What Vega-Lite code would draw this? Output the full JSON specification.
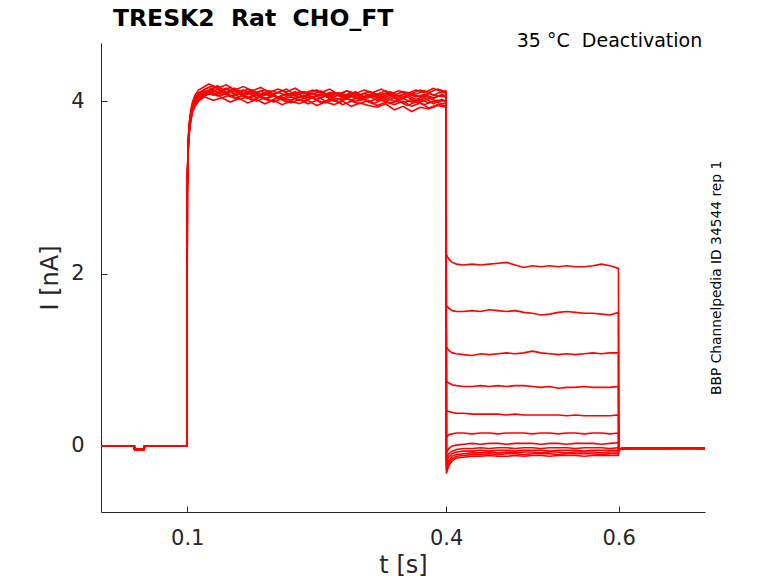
{
  "$schema": "https://vega.github.io/schema/vega-lite/v6.json",
  "width": 604,
  "height": 469,
  "autosize": {"type": "none"},
  "padding": {"left": 101, "top": 43, "right": 73, "bottom": 71},
  "background": "white",
  "config": {"view": {"stroke": null}, "font": "DejaVu Sans"},
  "datasets": {
    "traces": [
      {"s":1,"t":0,"i":0},{"s":1,"t":0.0386,"i":0},{"s":1,"t":0.039,"i":-0.04},{"s":1,"t":0.05,"i":-0.04},{"s":1,"t":0.0505,"i":0},{"s":1,"t":0.0997,"i":0},
      {"s":1,"t":0.1,"i":3.02},{"s":1,"t":0.101,"i":3.48},{"s":1,"t":0.102,"i":3.68},{"s":1,"t":0.104,"i":3.86},{"s":1,"t":0.106,"i":3.96},{"s":1,"t":0.109,"i":4.03},{"s":1,"t":0.113,"i":4.08},
      {"s":1,"t":0.12,"i":4.14},{"s":1,"t":0.13,"i":4.18},{"s":1,"t":0.14,"i":4.12},{"s":1,"t":0.15,"i":4.16},{"s":1,"t":0.16,"i":4.09},{"s":1,"t":0.17,"i":4.14},{"s":1,"t":0.18,"i":4.10},{"s":1,"t":0.19,"i":4.13},{"s":1,"t":0.2,"i":4.08},{"s":1,"t":0.21,"i":4.12},{"s":1,"t":0.22,"i":4.07},{"s":1,"t":0.23,"i":4.11},{"s":1,"t":0.24,"i":4.09},{"s":1,"t":0.25,"i":4.13},{"s":1,"t":0.26,"i":4.08},{"s":1,"t":0.27,"i":4.10},{"s":1,"t":0.28,"i":4.06},{"s":1,"t":0.29,"i":4.10},{"s":1,"t":0.3,"i":4.07},{"s":1,"t":0.31,"i":4.11},{"s":1,"t":0.32,"i":4.08},{"s":1,"t":0.33,"i":4.12},{"s":1,"t":0.34,"i":4.07},{"s":1,"t":0.35,"i":4.11},{"s":1,"t":0.36,"i":4.09},{"s":1,"t":0.37,"i":4.13},{"s":1,"t":0.38,"i":4.10},{"s":1,"t":0.39,"i":4.14},{"s":1,"t":0.3997,"i":4.11},
      {"s":1,"t":0.4003,"i":2.22},{"s":1,"t":0.403,"i":2.17},{"s":1,"t":0.407,"i":2.13},{"s":1,"t":0.412,"i":2.11},{"s":1,"t":0.42,"i":2.10},{"s":1,"t":0.43,"i":2.11},{"s":1,"t":0.44,"i":2.10},{"s":1,"t":0.45,"i":2.11},{"s":1,"t":0.46,"i":2.12},{"s":1,"t":0.47,"i":2.13},{"s":1,"t":0.48,"i":2.10},{"s":1,"t":0.49,"i":2.07},{"s":1,"t":0.5,"i":2.09},{"s":1,"t":0.51,"i":2.08},{"s":1,"t":0.52,"i":2.09},{"s":1,"t":0.53,"i":2.08},{"s":1,"t":0.54,"i":2.09},{"s":1,"t":0.55,"i":2.08},{"s":1,"t":0.56,"i":2.08},{"s":1,"t":0.57,"i":2.09},{"s":1,"t":0.58,"i":2.11},{"s":1,"t":0.59,"i":2.09},{"s":1,"t":0.5997,"i":2.06},
      {"s":1,"t":0.6,"i":-0.04},{"s":1,"t":0.603,"i":-0.03},{"s":1,"t":0.65,"i":-0.03},{"s":1,"t":0.7,"i":-0.03},

      {"s":2,"t":0,"i":0},{"s":2,"t":0.0386,"i":0},{"s":2,"t":0.039,"i":-0.04},{"s":2,"t":0.05,"i":-0.04},{"s":2,"t":0.0505,"i":0},{"s":2,"t":0.0997,"i":0},
      {"s":2,"t":0.1,"i":2.98},{"s":2,"t":0.101,"i":3.42},{"s":2,"t":0.102,"i":3.62},{"s":2,"t":0.104,"i":3.79},{"s":2,"t":0.106,"i":3.89},{"s":2,"t":0.109,"i":3.97},{"s":2,"t":0.113,"i":4.03},
      {"s":2,"t":0.125,"i":4.10},{"s":2,"t":0.135,"i":4.06},{"s":2,"t":0.145,"i":4.09},{"s":2,"t":0.155,"i":4.03},{"s":2,"t":0.165,"i":4.07},{"s":2,"t":0.175,"i":4.01},{"s":2,"t":0.185,"i":4.05},{"s":2,"t":0.195,"i":4.00},{"s":2,"t":0.205,"i":4.04},{"s":2,"t":0.215,"i":3.99},{"s":2,"t":0.225,"i":4.03},{"s":2,"t":0.235,"i":4.00},{"s":2,"t":0.245,"i":4.04},{"s":2,"t":0.255,"i":3.98},{"s":2,"t":0.265,"i":4.02},{"s":2,"t":0.275,"i":3.99},{"s":2,"t":0.285,"i":4.03},{"s":2,"t":0.295,"i":4.00},{"s":2,"t":0.305,"i":4.02},{"s":2,"t":0.315,"i":3.97},{"s":2,"t":0.325,"i":4.01},{"s":2,"t":0.335,"i":3.98},{"s":2,"t":0.345,"i":4.00},{"s":2,"t":0.355,"i":3.95},{"s":2,"t":0.365,"i":3.99},{"s":2,"t":0.375,"i":3.96},{"s":2,"t":0.385,"i":4.00},{"s":2,"t":0.395,"i":3.97},{"s":2,"t":0.3997,"i":3.98},
      {"s":2,"t":0.4003,"i":1.63},{"s":2,"t":0.403,"i":1.60},{"s":2,"t":0.407,"i":1.57},{"s":2,"t":0.412,"i":1.56},{"s":2,"t":0.42,"i":1.56},{"s":2,"t":0.43,"i":1.57},{"s":2,"t":0.44,"i":1.56},{"s":2,"t":0.45,"i":1.58},{"s":2,"t":0.46,"i":1.57},{"s":2,"t":0.47,"i":1.56},{"s":2,"t":0.48,"i":1.57},{"s":2,"t":0.49,"i":1.55},{"s":2,"t":0.5,"i":1.54},{"s":2,"t":0.51,"i":1.52},{"s":2,"t":0.52,"i":1.53},{"s":2,"t":0.53,"i":1.55},{"s":2,"t":0.54,"i":1.56},{"s":2,"t":0.55,"i":1.55},{"s":2,"t":0.56,"i":1.54},{"s":2,"t":0.57,"i":1.54},{"s":2,"t":0.58,"i":1.53},{"s":2,"t":0.59,"i":1.52},{"s":2,"t":0.5997,"i":1.55},
      {"s":2,"t":0.6,"i":-0.05},{"s":2,"t":0.603,"i":-0.03},{"s":2,"t":0.65,"i":-0.02},{"s":2,"t":0.7,"i":-0.03},

      {"s":3,"t":0,"i":0},{"s":3,"t":0.0386,"i":0},{"s":3,"t":0.039,"i":-0.04},{"s":3,"t":0.05,"i":-0.04},{"s":3,"t":0.0505,"i":0},{"s":3,"t":0.0997,"i":0},
      {"s":3,"t":0.1,"i":3.00},{"s":3,"t":0.101,"i":3.45},{"s":3,"t":0.102,"i":3.65},{"s":3,"t":0.104,"i":3.82},{"s":3,"t":0.106,"i":3.92},{"s":3,"t":0.109,"i":3.99},{"s":3,"t":0.113,"i":4.04},
      {"s":3,"t":0.12,"i":4.08},{"s":3,"t":0.13,"i":4.13},{"s":3,"t":0.14,"i":4.07},{"s":3,"t":0.15,"i":4.11},{"s":3,"t":0.16,"i":4.05},{"s":3,"t":0.17,"i":4.10},{"s":3,"t":0.18,"i":4.04},{"s":3,"t":0.19,"i":4.09},{"s":3,"t":0.2,"i":4.06},{"s":3,"t":0.21,"i":4.03},{"s":3,"t":0.22,"i":4.08},{"s":3,"t":0.23,"i":4.04},{"s":3,"t":0.24,"i":4.07},{"s":3,"t":0.25,"i":4.02},{"s":3,"t":0.26,"i":4.06},{"s":3,"t":0.27,"i":4.09},{"s":3,"t":0.28,"i":4.04},{"s":3,"t":0.29,"i":4.07},{"s":3,"t":0.3,"i":4.03},{"s":3,"t":0.31,"i":4.08},{"s":3,"t":0.32,"i":4.05},{"s":3,"t":0.33,"i":4.02},{"s":3,"t":0.34,"i":4.07},{"s":3,"t":0.35,"i":4.04},{"s":3,"t":0.36,"i":4.08},{"s":3,"t":0.37,"i":4.05},{"s":3,"t":0.38,"i":4.09},{"s":3,"t":0.39,"i":4.06},{"s":3,"t":0.3997,"i":4.05},
      {"s":3,"t":0.4003,"i":1.15},{"s":3,"t":0.403,"i":1.11},{"s":3,"t":0.407,"i":1.08},{"s":3,"t":0.412,"i":1.07},{"s":3,"t":0.42,"i":1.06},{"s":3,"t":0.43,"i":1.05},{"s":3,"t":0.44,"i":1.07},{"s":3,"t":0.45,"i":1.06},{"s":3,"t":0.46,"i":1.07},{"s":3,"t":0.47,"i":1.08},{"s":3,"t":0.48,"i":1.07},{"s":3,"t":0.49,"i":1.08},{"s":3,"t":0.5,"i":1.10},{"s":3,"t":0.51,"i":1.08},{"s":3,"t":0.52,"i":1.07},{"s":3,"t":0.53,"i":1.06},{"s":3,"t":0.54,"i":1.07},{"s":3,"t":0.55,"i":1.06},{"s":3,"t":0.56,"i":1.07},{"s":3,"t":0.57,"i":1.08},{"s":3,"t":0.58,"i":1.07},{"s":3,"t":0.59,"i":1.08},{"s":3,"t":0.5997,"i":1.08},
      {"s":3,"t":0.6,"i":-0.04},{"s":3,"t":0.603,"i":-0.03},{"s":3,"t":0.65,"i":-0.03},{"s":3,"t":0.7,"i":-0.02},

      {"s":4,"t":0,"i":0},{"s":4,"t":0.0386,"i":0},{"s":4,"t":0.039,"i":-0.04},{"s":4,"t":0.05,"i":-0.04},{"s":4,"t":0.0505,"i":0},{"s":4,"t":0.0997,"i":0},
      {"s":4,"t":0.1,"i":3.04},{"s":4,"t":0.101,"i":3.50},{"s":4,"t":0.102,"i":3.70},{"s":4,"t":0.104,"i":3.87},{"s":4,"t":0.106,"i":3.97},{"s":4,"t":0.109,"i":4.05},{"s":4,"t":0.113,"i":4.10},
      {"s":4,"t":0.125,"i":4.16},{"s":4,"t":0.135,"i":4.11},{"s":4,"t":0.145,"i":4.15},{"s":4,"t":0.155,"i":4.09},{"s":4,"t":0.165,"i":4.13},{"s":4,"t":0.175,"i":4.08},{"s":4,"t":0.185,"i":4.12},{"s":4,"t":0.195,"i":4.06},{"s":4,"t":0.205,"i":4.10},{"s":4,"t":0.215,"i":4.07},{"s":4,"t":0.225,"i":4.11},{"s":4,"t":0.235,"i":4.05},{"s":4,"t":0.245,"i":4.09},{"s":4,"t":0.255,"i":4.06},{"s":4,"t":0.265,"i":4.10},{"s":4,"t":0.275,"i":4.07},{"s":4,"t":0.285,"i":4.12},{"s":4,"t":0.295,"i":4.06},{"s":4,"t":0.305,"i":4.09},{"s":4,"t":0.315,"i":4.05},{"s":4,"t":0.325,"i":4.08},{"s":4,"t":0.335,"i":4.10},{"s":4,"t":0.345,"i":4.06},{"s":4,"t":0.355,"i":4.09},{"s":4,"t":0.365,"i":4.05},{"s":4,"t":0.375,"i":4.08},{"s":4,"t":0.385,"i":4.04},{"s":4,"t":0.395,"i":4.07},{"s":4,"t":0.3997,"i":4.06},
      {"s":4,"t":0.4003,"i":0.75},{"s":4,"t":0.403,"i":0.73},{"s":4,"t":0.407,"i":0.71},{"s":4,"t":0.412,"i":0.70},{"s":4,"t":0.42,"i":0.69},{"s":4,"t":0.43,"i":0.69},{"s":4,"t":0.44,"i":0.70},{"s":4,"t":0.45,"i":0.69},{"s":4,"t":0.46,"i":0.70},{"s":4,"t":0.47,"i":0.69},{"s":4,"t":0.48,"i":0.70},{"s":4,"t":0.49,"i":0.70},{"s":4,"t":0.5,"i":0.69},{"s":4,"t":0.51,"i":0.68},{"s":4,"t":0.52,"i":0.69},{"s":4,"t":0.53,"i":0.67},{"s":4,"t":0.54,"i":0.68},{"s":4,"t":0.55,"i":0.68},{"s":4,"t":0.56,"i":0.69},{"s":4,"t":0.57,"i":0.68},{"s":4,"t":0.58,"i":0.68},{"s":4,"t":0.59,"i":0.68},{"s":4,"t":0.5997,"i":0.69},
      {"s":4,"t":0.6,"i":-0.05},{"s":4,"t":0.603,"i":-0.03},{"s":4,"t":0.65,"i":-0.03},{"s":4,"t":0.7,"i":-0.03},

      {"s":5,"t":0,"i":0},{"s":5,"t":0.0386,"i":0},{"s":5,"t":0.039,"i":-0.04},{"s":5,"t":0.05,"i":-0.04},{"s":5,"t":0.0505,"i":0},{"s":5,"t":0.0997,"i":0},
      {"s":5,"t":0.1,"i":2.96},{"s":5,"t":0.101,"i":3.40},{"s":5,"t":0.102,"i":3.60},{"s":5,"t":0.104,"i":3.77},{"s":5,"t":0.106,"i":3.87},{"s":5,"t":0.109,"i":3.94},{"s":5,"t":0.113,"i":4.00},
      {"s":5,"t":0.12,"i":4.05},{"s":5,"t":0.13,"i":4.01},{"s":5,"t":0.14,"i":4.04},{"s":5,"t":0.15,"i":3.99},{"s":5,"t":0.16,"i":4.03},{"s":5,"t":0.17,"i":3.98},{"s":5,"t":0.18,"i":4.02},{"s":5,"t":0.19,"i":3.97},{"s":5,"t":0.2,"i":4.01},{"s":5,"t":0.21,"i":3.96},{"s":5,"t":0.22,"i":4.00},{"s":5,"t":0.23,"i":3.97},{"s":5,"t":0.24,"i":4.01},{"s":5,"t":0.25,"i":3.95},{"s":5,"t":0.26,"i":3.99},{"s":5,"t":0.27,"i":3.96},{"s":5,"t":0.28,"i":4.00},{"s":5,"t":0.29,"i":3.94},{"s":5,"t":0.3,"i":3.98},{"s":5,"t":0.31,"i":3.95},{"s":5,"t":0.32,"i":3.93},{"s":5,"t":0.33,"i":3.97},{"s":5,"t":0.34,"i":3.90},{"s":5,"t":0.35,"i":3.94},{"s":5,"t":0.36,"i":3.88},{"s":5,"t":0.37,"i":3.93},{"s":5,"t":0.38,"i":3.91},{"s":5,"t":0.39,"i":3.95},{"s":5,"t":0.3997,"i":3.93},
      {"s":5,"t":0.4003,"i":0.41},{"s":5,"t":0.403,"i":0.40},{"s":5,"t":0.407,"i":0.39},{"s":5,"t":0.412,"i":0.38},{"s":5,"t":0.42,"i":0.38},{"s":5,"t":0.43,"i":0.37},{"s":5,"t":0.44,"i":0.37},{"s":5,"t":0.45,"i":0.37},{"s":5,"t":0.46,"i":0.37},{"s":5,"t":0.47,"i":0.36},{"s":5,"t":0.48,"i":0.37},{"s":5,"t":0.49,"i":0.36},{"s":5,"t":0.5,"i":0.36},{"s":5,"t":0.51,"i":0.36},{"s":5,"t":0.52,"i":0.36},{"s":5,"t":0.53,"i":0.36},{"s":5,"t":0.54,"i":0.35},{"s":5,"t":0.55,"i":0.36},{"s":5,"t":0.56,"i":0.35},{"s":5,"t":0.57,"i":0.35},{"s":5,"t":0.58,"i":0.35},{"s":5,"t":0.59,"i":0.35},{"s":5,"t":0.5997,"i":0.36},
      {"s":5,"t":0.6,"i":-0.04},{"s":5,"t":0.603,"i":-0.03},{"s":5,"t":0.65,"i":-0.03},{"s":5,"t":0.7,"i":-0.03},

      {"s":6,"t":0,"i":0},{"s":6,"t":0.0386,"i":0},{"s":6,"t":0.039,"i":-0.04},{"s":6,"t":0.05,"i":-0.04},{"s":6,"t":0.0505,"i":0},{"s":6,"t":0.0997,"i":0},
      {"s":6,"t":0.1,"i":3.05},{"s":6,"t":0.101,"i":3.52},{"s":6,"t":0.102,"i":3.72},{"s":6,"t":0.104,"i":3.89},{"s":6,"t":0.106,"i":3.99},{"s":6,"t":0.109,"i":4.07},{"s":6,"t":0.113,"i":4.13},
      {"s":6,"t":0.125,"i":4.20},{"s":6,"t":0.135,"i":4.15},{"s":6,"t":0.145,"i":4.19},{"s":6,"t":0.155,"i":4.13},{"s":6,"t":0.165,"i":4.17},{"s":6,"t":0.175,"i":4.12},{"s":6,"t":0.185,"i":4.16},{"s":6,"t":0.195,"i":4.10},{"s":6,"t":0.205,"i":4.14},{"s":6,"t":0.215,"i":4.11},{"s":6,"t":0.225,"i":4.15},{"s":6,"t":0.235,"i":4.09},{"s":6,"t":0.245,"i":4.13},{"s":6,"t":0.255,"i":4.10},{"s":6,"t":0.265,"i":4.14},{"s":6,"t":0.275,"i":4.08},{"s":6,"t":0.285,"i":4.12},{"s":6,"t":0.295,"i":4.09},{"s":6,"t":0.305,"i":4.13},{"s":6,"t":0.315,"i":4.10},{"s":6,"t":0.325,"i":4.14},{"s":6,"t":0.335,"i":4.08},{"s":6,"t":0.345,"i":4.12},{"s":6,"t":0.355,"i":4.09},{"s":6,"t":0.365,"i":4.13},{"s":6,"t":0.375,"i":4.10},{"s":6,"t":0.385,"i":4.15},{"s":6,"t":0.395,"i":4.11},{"s":6,"t":0.3997,"i":4.12},
      {"s":6,"t":0.4003,"i":0.10},{"s":6,"t":0.403,"i":0.13},{"s":6,"t":0.407,"i":0.14},{"s":6,"t":0.412,"i":0.15},{"s":6,"t":0.42,"i":0.15},{"s":6,"t":0.43,"i":0.14},{"s":6,"t":0.44,"i":0.15},{"s":6,"t":0.45,"i":0.15},{"s":6,"t":0.46,"i":0.14},{"s":6,"t":0.47,"i":0.15},{"s":6,"t":0.48,"i":0.15},{"s":6,"t":0.49,"i":0.15},{"s":6,"t":0.5,"i":0.14},{"s":6,"t":0.51,"i":0.15},{"s":6,"t":0.52,"i":0.15},{"s":6,"t":0.53,"i":0.14},{"s":6,"t":0.54,"i":0.15},{"s":6,"t":0.55,"i":0.15},{"s":6,"t":0.56,"i":0.14},{"s":6,"t":0.57,"i":0.15},{"s":6,"t":0.58,"i":0.15},{"s":6,"t":0.59,"i":0.14},{"s":6,"t":0.5997,"i":0.15},
      {"s":6,"t":0.6,"i":-0.05},{"s":6,"t":0.603,"i":-0.03},{"s":6,"t":0.65,"i":-0.03},{"s":6,"t":0.7,"i":-0.03},

      {"s":7,"t":0,"i":0},{"s":7,"t":0.0386,"i":0},{"s":7,"t":0.039,"i":-0.04},{"s":7,"t":0.05,"i":-0.04},{"s":7,"t":0.0505,"i":0},{"s":7,"t":0.0997,"i":0},
      {"s":7,"t":0.1,"i":2.99},{"s":7,"t":0.101,"i":3.44},{"s":7,"t":0.102,"i":3.64},{"s":7,"t":0.104,"i":3.81},{"s":7,"t":0.106,"i":3.91},{"s":7,"t":0.109,"i":3.98},{"s":7,"t":0.113,"i":4.04},
      {"s":7,"t":0.12,"i":4.11},{"s":7,"t":0.13,"i":4.07},{"s":7,"t":0.14,"i":4.10},{"s":7,"t":0.15,"i":4.05},{"s":7,"t":0.16,"i":4.09},{"s":7,"t":0.17,"i":4.03},{"s":7,"t":0.18,"i":4.07},{"s":7,"t":0.19,"i":4.02},{"s":7,"t":0.2,"i":4.06},{"s":7,"t":0.21,"i":4.04},{"s":7,"t":0.22,"i":4.01},{"s":7,"t":0.23,"i":4.05},{"s":7,"t":0.24,"i":4.02},{"s":7,"t":0.25,"i":4.06},{"s":7,"t":0.26,"i":4.00},{"s":7,"t":0.27,"i":4.04},{"s":7,"t":0.28,"i":4.01},{"s":7,"t":0.29,"i":4.05},{"s":7,"t":0.3,"i":4.02},{"s":7,"t":0.31,"i":4.06},{"s":7,"t":0.32,"i":4.01},{"s":7,"t":0.33,"i":4.04},{"s":7,"t":0.34,"i":4.00},{"s":7,"t":0.35,"i":4.03},{"s":7,"t":0.36,"i":3.99},{"s":7,"t":0.37,"i":4.02},{"s":7,"t":0.38,"i":3.98},{"s":7,"t":0.39,"i":4.01},{"s":7,"t":0.3997,"i":4.00},
      {"s":7,"t":0.4003,"i":-0.08},{"s":7,"t":0.403,"i":-0.03},{"s":7,"t":0.407,"i":0.00},{"s":7,"t":0.412,"i":0.01},{"s":7,"t":0.42,"i":0.02},{"s":7,"t":0.43,"i":0.03},{"s":7,"t":0.44,"i":0.02},{"s":7,"t":0.45,"i":0.03},{"s":7,"t":0.46,"i":0.03},{"s":7,"t":0.47,"i":0.02},{"s":7,"t":0.48,"i":0.03},{"s":7,"t":0.49,"i":0.03},{"s":7,"t":0.5,"i":0.03},{"s":7,"t":0.51,"i":0.02},{"s":7,"t":0.52,"i":0.03},{"s":7,"t":0.53,"i":0.03},{"s":7,"t":0.54,"i":0.02},{"s":7,"t":0.55,"i":0.03},{"s":7,"t":0.56,"i":0.03},{"s":7,"t":0.57,"i":0.03},{"s":7,"t":0.58,"i":0.02},{"s":7,"t":0.59,"i":0.03},{"s":7,"t":0.5997,"i":0.04},
      {"s":7,"t":0.6,"i":-0.04},{"s":7,"t":0.603,"i":-0.03},{"s":7,"t":0.65,"i":-0.02},{"s":7,"t":0.7,"i":-0.03},

      {"s":8,"t":0,"i":0},{"s":8,"t":0.0386,"i":0},{"s":8,"t":0.039,"i":-0.04},{"s":8,"t":0.05,"i":-0.04},{"s":8,"t":0.0505,"i":0},{"s":8,"t":0.0997,"i":0},
      {"s":8,"t":0.1,"i":3.03},{"s":8,"t":0.101,"i":3.49},{"s":8,"t":0.102,"i":3.69},{"s":8,"t":0.104,"i":3.85},{"s":8,"t":0.106,"i":3.95},{"s":8,"t":0.109,"i":4.03},{"s":8,"t":0.113,"i":4.08},
      {"s":8,"t":0.125,"i":4.13},{"s":8,"t":0.135,"i":4.18},{"s":8,"t":0.145,"i":4.10},{"s":8,"t":0.155,"i":4.14},{"s":8,"t":0.165,"i":4.08},{"s":8,"t":0.175,"i":4.12},{"s":8,"t":0.185,"i":4.07},{"s":8,"t":0.195,"i":4.11},{"s":8,"t":0.205,"i":4.05},{"s":8,"t":0.215,"i":4.09},{"s":8,"t":0.225,"i":4.06},{"s":8,"t":0.235,"i":4.10},{"s":8,"t":0.245,"i":4.04},{"s":8,"t":0.255,"i":4.08},{"s":8,"t":0.265,"i":4.05},{"s":8,"t":0.275,"i":4.09},{"s":8,"t":0.285,"i":4.06},{"s":8,"t":0.295,"i":4.10},{"s":8,"t":0.305,"i":4.04},{"s":8,"t":0.315,"i":4.08},{"s":8,"t":0.325,"i":4.05},{"s":8,"t":0.335,"i":4.09},{"s":8,"t":0.345,"i":4.03},{"s":8,"t":0.355,"i":4.07},{"s":8,"t":0.365,"i":4.02},{"s":8,"t":0.375,"i":4.06},{"s":8,"t":0.385,"i":4.03},{"s":8,"t":0.395,"i":4.08},{"s":8,"t":0.3997,"i":4.05},
      {"s":8,"t":0.4003,"i":-0.14},{"s":8,"t":0.403,"i":-0.09},{"s":8,"t":0.407,"i":-0.06},{"s":8,"t":0.412,"i":-0.04},{"s":8,"t":0.42,"i":-0.03},{"s":8,"t":0.43,"i":-0.03},{"s":8,"t":0.44,"i":-0.02},{"s":8,"t":0.45,"i":-0.03},{"s":8,"t":0.46,"i":-0.02},{"s":8,"t":0.47,"i":-0.02},{"s":8,"t":0.48,"i":-0.03},{"s":8,"t":0.49,"i":-0.02},{"s":8,"t":0.5,"i":-0.02},{"s":8,"t":0.51,"i":-0.03},{"s":8,"t":0.52,"i":-0.02},{"s":8,"t":0.53,"i":-0.02},{"s":8,"t":0.54,"i":-0.02},{"s":8,"t":0.55,"i":-0.03},{"s":8,"t":0.56,"i":-0.02},{"s":8,"t":0.57,"i":-0.02},{"s":8,"t":0.58,"i":-0.02},{"s":8,"t":0.59,"i":-0.03},{"s":8,"t":0.5997,"i":-0.02},
      {"s":8,"t":0.6,"i":-0.05},{"s":8,"t":0.603,"i":-0.03},{"s":8,"t":0.65,"i":-0.03},{"s":8,"t":0.7,"i":-0.03},

      {"s":9,"t":0,"i":0},{"s":9,"t":0.0386,"i":0},{"s":9,"t":0.039,"i":-0.04},{"s":9,"t":0.05,"i":-0.04},{"s":9,"t":0.0505,"i":0},{"s":9,"t":0.0997,"i":0},
      {"s":9,"t":0.1,"i":2.97},{"s":9,"t":0.101,"i":3.41},{"s":9,"t":0.102,"i":3.61},{"s":9,"t":0.104,"i":3.78},{"s":9,"t":0.106,"i":3.88},{"s":9,"t":0.109,"i":3.96},{"s":9,"t":0.113,"i":4.01},
      {"s":9,"t":0.12,"i":4.06},{"s":9,"t":0.13,"i":4.10},{"s":9,"t":0.14,"i":4.04},{"s":9,"t":0.15,"i":4.07},{"s":9,"t":0.16,"i":4.02},{"s":9,"t":0.17,"i":4.05},{"s":9,"t":0.18,"i":4.00},{"s":9,"t":0.19,"i":4.04},{"s":9,"t":0.2,"i":3.99},{"s":9,"t":0.21,"i":4.03},{"s":9,"t":0.22,"i":3.98},{"s":9,"t":0.23,"i":4.02},{"s":9,"t":0.24,"i":3.97},{"s":9,"t":0.25,"i":4.01},{"s":9,"t":0.26,"i":3.98},{"s":9,"t":0.27,"i":4.02},{"s":9,"t":0.28,"i":3.96},{"s":9,"t":0.29,"i":4.00},{"s":9,"t":0.3,"i":3.97},{"s":9,"t":0.31,"i":4.01},{"s":9,"t":0.32,"i":3.95},{"s":9,"t":0.33,"i":3.99},{"s":9,"t":0.34,"i":3.96},{"s":9,"t":0.35,"i":4.00},{"s":9,"t":0.36,"i":3.94},{"s":9,"t":0.37,"i":3.98},{"s":9,"t":0.38,"i":3.92},{"s":9,"t":0.39,"i":3.96},{"s":9,"t":0.3997,"i":3.95},
      {"s":9,"t":0.4003,"i":-0.19},{"s":9,"t":0.403,"i":-0.13},{"s":9,"t":0.407,"i":-0.09},{"s":9,"t":0.412,"i":-0.07},{"s":9,"t":0.42,"i":-0.06},{"s":9,"t":0.43,"i":-0.06},{"s":9,"t":0.44,"i":-0.05},{"s":9,"t":0.45,"i":-0.06},{"s":9,"t":0.46,"i":-0.05},{"s":9,"t":0.47,"i":-0.05},{"s":9,"t":0.48,"i":-0.06},{"s":9,"t":0.49,"i":-0.05},{"s":9,"t":0.5,"i":-0.05},{"s":9,"t":0.51,"i":-0.05},{"s":9,"t":0.52,"i":-0.06},{"s":9,"t":0.53,"i":-0.05},{"s":9,"t":0.54,"i":-0.05},{"s":9,"t":0.55,"i":-0.05},{"s":9,"t":0.56,"i":-0.06},{"s":9,"t":0.57,"i":-0.05},{"s":9,"t":0.58,"i":-0.05},{"s":9,"t":0.59,"i":-0.05},{"s":9,"t":0.5997,"i":-0.05},
      {"s":9,"t":0.6,"i":-0.04},{"s":9,"t":0.603,"i":-0.03},{"s":9,"t":0.65,"i":-0.03},{"s":9,"t":0.7,"i":-0.02},

      {"s":10,"t":0,"i":0},{"s":10,"t":0.0386,"i":0},{"s":10,"t":0.039,"i":-0.04},{"s":10,"t":0.05,"i":-0.04},{"s":10,"t":0.0505,"i":0},{"s":10,"t":0.0997,"i":0},
      {"s":10,"t":0.1,"i":3.02},{"s":10,"t":0.101,"i":3.47},{"s":10,"t":0.102,"i":3.67},{"s":10,"t":0.104,"i":3.84},{"s":10,"t":0.106,"i":3.94},{"s":10,"t":0.109,"i":4.02},{"s":10,"t":0.113,"i":4.07},
      {"s":10,"t":0.125,"i":4.12},{"s":10,"t":0.135,"i":4.17},{"s":10,"t":0.145,"i":4.11},{"s":10,"t":0.155,"i":4.15},{"s":10,"t":0.165,"i":4.09},{"s":10,"t":0.175,"i":4.13},{"s":10,"t":0.185,"i":4.08},{"s":10,"t":0.195,"i":4.12},{"s":10,"t":0.205,"i":4.10},{"s":10,"t":0.215,"i":4.14},{"s":10,"t":0.225,"i":4.07},{"s":10,"t":0.235,"i":4.11},{"s":10,"t":0.245,"i":4.08},{"s":10,"t":0.255,"i":4.12},{"s":10,"t":0.265,"i":4.06},{"s":10,"t":0.275,"i":4.10},{"s":10,"t":0.285,"i":4.07},{"s":10,"t":0.295,"i":4.11},{"s":10,"t":0.305,"i":4.05},{"s":10,"t":0.315,"i":4.09},{"s":10,"t":0.325,"i":4.07},{"s":10,"t":0.335,"i":4.11},{"s":10,"t":0.345,"i":4.06},{"s":10,"t":0.355,"i":4.10},{"s":10,"t":0.365,"i":4.08},{"s":10,"t":0.375,"i":4.12},{"s":10,"t":0.385,"i":4.07},{"s":10,"t":0.395,"i":4.11},{"s":10,"t":0.3997,"i":4.09},
      {"s":10,"t":0.4003,"i":-0.24},{"s":10,"t":0.403,"i":-0.17},{"s":10,"t":0.407,"i":-0.12},{"s":10,"t":0.412,"i":-0.10},{"s":10,"t":0.42,"i":-0.09},{"s":10,"t":0.43,"i":-0.08},{"s":10,"t":0.44,"i":-0.08},{"s":10,"t":0.45,"i":-0.07},{"s":10,"t":0.46,"i":-0.08},{"s":10,"t":0.47,"i":-0.07},{"s":10,"t":0.48,"i":-0.08},{"s":10,"t":0.49,"i":-0.07},{"s":10,"t":0.5,"i":-0.07},{"s":10,"t":0.51,"i":-0.08},{"s":10,"t":0.52,"i":-0.07},{"s":10,"t":0.53,"i":-0.07},{"s":10,"t":0.54,"i":-0.08},{"s":10,"t":0.55,"i":-0.07},{"s":10,"t":0.56,"i":-0.07},{"s":10,"t":0.57,"i":-0.07},{"s":10,"t":0.58,"i":-0.08},{"s":10,"t":0.59,"i":-0.07},{"s":10,"t":0.5997,"i":-0.07},
      {"s":10,"t":0.6,"i":-0.05},{"s":10,"t":0.603,"i":-0.03},{"s":10,"t":0.65,"i":-0.03},{"s":10,"t":0.7,"i":-0.03},

      {"s":11,"t":0,"i":0},{"s":11,"t":0.0386,"i":0},{"s":11,"t":0.039,"i":-0.04},{"s":11,"t":0.05,"i":-0.04},{"s":11,"t":0.0505,"i":0},{"s":11,"t":0.0997,"i":0},
      {"s":11,"t":0.1,"i":2.99},{"s":11,"t":0.101,"i":3.43},{"s":11,"t":0.102,"i":3.63},{"s":11,"t":0.104,"i":3.80},{"s":11,"t":0.106,"i":3.90},{"s":11,"t":0.109,"i":3.98},{"s":11,"t":0.113,"i":4.03},
      {"s":11,"t":0.12,"i":4.12},{"s":11,"t":0.13,"i":4.08},{"s":11,"t":0.14,"i":4.11},{"s":11,"t":0.15,"i":4.06},{"s":11,"t":0.16,"i":4.09},{"s":11,"t":0.17,"i":4.04},{"s":11,"t":0.18,"i":4.08},{"s":11,"t":0.19,"i":4.03},{"s":11,"t":0.2,"i":4.07},{"s":11,"t":0.21,"i":4.02},{"s":11,"t":0.22,"i":4.05},{"s":11,"t":0.23,"i":4.01},{"s":11,"t":0.24,"i":4.05},{"s":11,"t":0.25,"i":4.02},{"s":11,"t":0.26,"i":4.06},{"s":11,"t":0.27,"i":4.00},{"s":11,"t":0.28,"i":4.04},{"s":11,"t":0.29,"i":4.01},{"s":11,"t":0.3,"i":4.05},{"s":11,"t":0.31,"i":3.99},{"s":11,"t":0.32,"i":4.03},{"s":11,"t":0.33,"i":4.00},{"s":11,"t":0.34,"i":4.04},{"s":11,"t":0.35,"i":3.98},{"s":11,"t":0.36,"i":4.02},{"s":11,"t":0.37,"i":3.99},{"s":11,"t":0.38,"i":4.03},{"s":11,"t":0.39,"i":4.00},{"s":11,"t":0.3997,"i":4.01},
      {"s":11,"t":0.4003,"i":-0.28},{"s":11,"t":0.403,"i":-0.20},{"s":11,"t":0.407,"i":-0.15},{"s":11,"t":0.412,"i":-0.12},{"s":11,"t":0.42,"i":-0.11},{"s":11,"t":0.43,"i":-0.10},{"s":11,"t":0.44,"i":-0.10},{"s":11,"t":0.45,"i":-0.09},{"s":11,"t":0.46,"i":-0.10},{"s":11,"t":0.47,"i":-0.09},{"s":11,"t":0.48,"i":-0.09},{"s":11,"t":0.49,"i":-0.10},{"s":11,"t":0.5,"i":-0.09},{"s":11,"t":0.51,"i":-0.09},{"s":11,"t":0.52,"i":-0.09},{"s":11,"t":0.53,"i":-0.10},{"s":11,"t":0.54,"i":-0.09},{"s":11,"t":0.55,"i":-0.09},{"s":11,"t":0.56,"i":-0.09},{"s":11,"t":0.57,"i":-0.09},{"s":11,"t":0.58,"i":-0.10},{"s":11,"t":0.59,"i":-0.09},{"s":11,"t":0.5997,"i":-0.09},
      {"s":11,"t":0.6,"i":-0.04},{"s":11,"t":0.603,"i":-0.03},{"s":11,"t":0.65,"i":-0.02},{"s":11,"t":0.7,"i":-0.03},

      {"s":12,"t":0,"i":0},{"s":12,"t":0.0386,"i":0},{"s":12,"t":0.039,"i":-0.04},{"s":12,"t":0.05,"i":-0.04},{"s":12,"t":0.0505,"i":0},{"s":12,"t":0.0997,"i":0},
      {"s":12,"t":0.1,"i":3.01},{"s":12,"t":0.101,"i":3.46},{"s":12,"t":0.102,"i":3.66},{"s":12,"t":0.104,"i":3.83},{"s":12,"t":0.106,"i":3.93},{"s":12,"t":0.109,"i":4.00},{"s":12,"t":0.113,"i":4.05},
      {"s":12,"t":0.125,"i":4.09},{"s":12,"t":0.135,"i":4.14},{"s":12,"t":0.145,"i":4.08},{"s":12,"t":0.155,"i":4.12},{"s":12,"t":0.165,"i":4.06},{"s":12,"t":0.175,"i":4.10},{"s":12,"t":0.185,"i":4.05},{"s":12,"t":0.195,"i":4.09},{"s":12,"t":0.205,"i":4.04},{"s":12,"t":0.215,"i":4.08},{"s":12,"t":0.225,"i":4.03},{"s":12,"t":0.235,"i":4.07},{"s":12,"t":0.245,"i":4.05},{"s":12,"t":0.255,"i":4.09},{"s":12,"t":0.265,"i":4.03},{"s":12,"t":0.275,"i":4.07},{"s":12,"t":0.285,"i":4.04},{"s":12,"t":0.295,"i":4.08},{"s":12,"t":0.305,"i":4.02},{"s":12,"t":0.315,"i":4.06},{"s":12,"t":0.325,"i":4.03},{"s":12,"t":0.335,"i":4.07},{"s":12,"t":0.345,"i":4.01},{"s":12,"t":0.355,"i":4.05},{"s":12,"t":0.365,"i":3.99},{"s":12,"t":0.375,"i":4.04},{"s":12,"t":0.385,"i":3.97},{"s":12,"t":0.395,"i":4.02},{"s":12,"t":0.3997,"i":4.00},
      {"s":12,"t":0.4003,"i":-0.32},{"s":12,"t":0.403,"i":-0.23},{"s":12,"t":0.407,"i":-0.17},{"s":12,"t":0.412,"i":-0.14},{"s":12,"t":0.42,"i":-0.13},{"s":12,"t":0.43,"i":-0.12},{"s":12,"t":0.44,"i":-0.12},{"s":12,"t":0.45,"i":-0.11},{"s":12,"t":0.46,"i":-0.12},{"s":12,"t":0.47,"i":-0.12},{"s":12,"t":0.48,"i":-0.11},{"s":12,"t":0.49,"i":-0.12},{"s":12,"t":0.5,"i":-0.11},{"s":12,"t":0.51,"i":-0.11},{"s":12,"t":0.52,"i":-0.12},{"s":12,"t":0.53,"i":-0.11},{"s":12,"t":0.54,"i":-0.11},{"s":12,"t":0.55,"i":-0.11},{"s":12,"t":0.56,"i":-0.12},{"s":12,"t":0.57,"i":-0.11},{"s":12,"t":0.58,"i":-0.11},{"s":12,"t":0.59,"i":-0.11},{"s":12,"t":0.5997,"i":-0.11},
      {"s":12,"t":0.6,"i":-0.05},{"s":12,"t":0.603,"i":-0.03},{"s":12,"t":0.65,"i":-0.03},{"s":12,"t":0.7,"i":-0.03}
    ]
  },
  "layer": [
    {
      "data": {"name": "traces"},
      "mark": {"type": "line", "color": "#ff0000", "strokeWidth": 1.6, "clip": true},
      "encoding": {
        "x": {
          "field": "t",
          "type": "quantitative",
          "scale": {"domain": [0, 0.7], "nice": false, "zero": false},
          "axis": {
            "title": "t [s]",
            "values": [0.1, 0.4, 0.6],
            "format": ".1f",
            "grid": false,
            "tickSize": -6,
            "labelPadding": 21,
            "labelFontSize": 21,
            "labelFont": "DejaVu Sans",
            "titleFont": "DejaVu Sans",
            "titleFontSize": 24,
            "titleFontWeight": "normal",
            "titlePadding": 5,
            "domainColor": "#262626",
            "tickColor": "#262626",
            "labelColor": "#262626",
            "titleColor": "#262626"
          }
        },
        "y": {
          "field": "i",
          "type": "quantitative",
          "scale": {"domain": [-0.766, 4.675], "nice": false, "zero": false},
          "axis": {
            "title": "I [nA]",
            "values": [0, 2, 4],
            "format": "d",
            "grid": false,
            "tickSize": -6,
            "labelPadding": 23,
            "labelFontSize": 21,
            "labelFont": "DejaVu Sans",
            "titleFont": "DejaVu Sans",
            "titleFontSize": 24,
            "titleFontWeight": "normal",
            "titlePadding": 8,
            "domainColor": "#262626",
            "tickColor": "#262626",
            "labelColor": "#262626",
            "titleColor": "#262626"
          }
        },
        "detail": {"field": "s", "type": "nominal"}
      }
    },
    {
      "data": {"values": [{"note": "TRESK2\u00a0 Rat\u00a0 CHO_FT"}]},
      "mark": {"type": "text", "align": "left", "baseline": "alphabetic", "fontSize": 23.5, "fontWeight": "bold", "color": "black", "font": "DejaVu Sans"},
      "encoding": {
        "x": {"datum": 0.0139},
        "y": {"datum": 4.867},
        "text": {"field": "note"}
      }
    },
    {
      "data": {"values": [{"note": "35 °C\u00a0 Deactivation"}]},
      "mark": {"type": "text", "align": "right", "baseline": "alphabetic", "fontSize": 19, "color": "black", "font": "DejaVu Sans"},
      "encoding": {
        "x": {"datum": 0.6968},
        "y": {"datum": 4.625},
        "text": {"field": "note"}
      }
    },
    {
      "data": {"values": [{"note": "BBP Channelpedia ID 34544 rep 1"}]},
      "mark": {"type": "text", "align": "center", "baseline": "alphabetic", "angle": 270, "fontSize": 13.8, "color": "black", "font": "DejaVu Sans"},
      "encoding": {
        "x": {"datum": 0.7188},
        "y": {"datum": 1.95},
        "text": {"field": "note"}
      }
    }
  ]
}
